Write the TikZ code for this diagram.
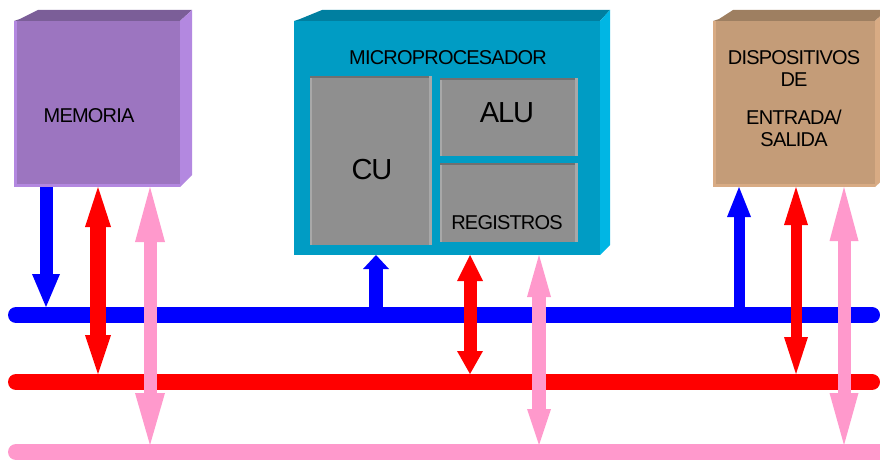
\documentclass[tikz,border=0pt]{standalone}
\usepackage{fontspec}
\setmainfont{Liberation Sans}
\newfontfamily\boxfont[LetterSpace=-4]{Liberation Sans}
\usetikzlibrary{arrows.meta}
\definecolor{memF}{HTML}{9C75C0}
\definecolor{memT}{HTML}{7B5E98}
\definecolor{memR}{HTML}{B388E0}
\definecolor{micF}{HTML}{009CC4}
\definecolor{micT}{HTML}{007FA0}
\definecolor{micR}{HTML}{00B6E4}
\definecolor{disF}{HTML}{C49C78}
\definecolor{disT}{HTML}{9E7F61}
\definecolor{disR}{HTML}{D8AB84}
\definecolor{gF}{HTML}{8F8F8F}
\definecolor{gTop}{HTML}{707070}
\definecolor{gSide}{HTML}{A8A8A8}
\definecolor{busBlue}{HTML}{0000FF}
\definecolor{busRed}{HTML}{FF0000}
\definecolor{busPink}{HTML}{FF99CC}
\tikzset{
  box/.style={inner sep=0pt, outer sep=0pt, anchor=north west},
  gbox/.style={box, fill=gF},
  lbl/.style={inner sep=0pt, font={\boxfont\fontsize{20}{22}\selectfont}, align=center},
  biglbl/.style={inner sep=0pt, font={\boxfont\fontsize{29}{32}\selectfont}},
  bus/.style={line width=16pt, line cap=round},
}
\newcommand\gbevel[1]{%
  \fill[gTop] (#1.north west) rectangle ([yshift=-2pt]#1.north east);
  \fill[gSide] ([xshift=-3pt]#1.north east) rectangle (#1.south east);
  \fill[gSide] ([yshift=-2pt]#1.north west) rectangle ([xshift=2pt]#1.south west);
}
\begin{document}
\begin{tikzpicture}[x=1pt,y=-1pt]
\useasboundingbox (0,0) rectangle (880,460);
\clip (0,0) rectangle (880,460);
% MEMORIA
\fill[memT] (14,21) -- (20,19) -- (38,10) -- (192,10) -- (180,21) -- cycle;
\fill[memR] (180,21) -- (192,10) -- (192,175) -- (180,187) -- cycle;
\node[box, fill=memF, minimum width=166pt, minimum height=166pt] (mem) at (14,21) {};
\fill[memR] (mem.north west) rectangle ([xshift=3pt]mem.south west);
\fill[memR] ([yshift=3pt]mem.south west) rectangle (mem.south east);
\node[lbl] (memt) at (89,116) {MEMORIA};
% MICROPROCESADOR
\fill[micT] (294,21) -- (300,19) -- (322,10) -- (610,10) -- (600,21) -- cycle;
\fill[micR] (600,21) -- (610,10) -- (610,245) -- (600,255) -- cycle;
\node[box, fill=micF, minimum width=306pt, minimum height=234pt] (mic) at (294,21) {};
\node[lbl] (mict) at (448,58) {MICROPROCESADOR};
\node[gbox, minimum width=122pt, minimum height=169pt] (cu) at (310,76) {};
\gbevel{cu}
\node[gbox, minimum width=138pt, minimum height=78pt] (alu) at (440,78) {};
\gbevel{alu}
\node[gbox, minimum width=138pt, minimum height=79pt] (reg) at (440,163) {};
\gbevel{reg}
\node[biglbl] (cut) at (372,170) {CU};
\node[biglbl] (alut) at (507,113) {ALU};
\node[lbl] (regt) at (507,223) {REGISTROS};
% DISPOSITIVOS
\fill[disT] (713,21) -- (719,19) -- (733,10) -- (887,10) -- (875,21) -- cycle;
\fill[disR] (875,21) -- (887,10) -- (887,176) -- (875,187) -- cycle;
\node[box, fill=disF, minimum width=162pt, minimum height=166pt] (dis) at (713,21) {};
\fill[disR] (dis.north west) rectangle ([xshift=3pt]dis.south west);
\fill[disR] ([yshift=3pt]dis.south west) rectangle (dis.south east);
\node[lbl] (dist) at (794,99) {DISPOSITIVOS\\DE\\[16pt]ENTRADA/\\SALIDA};
% buses
\coordinate (bB) at (16,315); \coordinate (bBe) at (872,315);
\coordinate (bR) at (16,382); \coordinate (bRe) at (872,382);
\coordinate (bP) at (16,452); \coordinate (bPe) at (890,452);
\coordinate (bBt) at (0,307);
\coordinate (bRt) at (0,374);
\coordinate (bPt) at (0,445);
\draw[bus, busBlue] (bB) -- (bBe);
\draw[bus, busRed] (bR) -- (bRe);
\draw[bus, busPink] (bP) -- (bPe);
% arrow columns
\coordinate (a1) at (46,0);  \coordinate (a2) at (98,0);  \coordinate (a3) at (150,0);
\coordinate (a4) at (376,0); \coordinate (a5) at (470,0); \coordinate (a6) at (539,0);
\coordinate (a7) at (739,0); \coordinate (a8) at (796,0); \coordinate (a9) at (844,0);
% memoria arrows
\draw[busBlue, line width=13pt, -{Triangle[length=33pt,width=28pt,line width=0pt]}] (mem.south -| a1) -- (a1 |- bBt);
\draw[busRed, line width=16pt, {Triangle[length=40pt,width=26pt,line width=0pt]}-{Triangle[length=39pt,width=26pt,line width=0pt]}] (mem.south -| a2) -- (a2 |- bRt);
\draw[busPink, line width=13pt, {Triangle[length=55pt,width=30pt,line width=0pt]}-{Triangle[length=52pt,width=30pt,line width=0pt]}] (mem.south -| a3) -- (a3 |- bPt);
% micro arrows
\draw[busBlue, line width=14pt, -{Triangle[length=14pt,width=26pt,line width=0pt]}] (a4 |- bBt) -- (mic.south -| a4);
\draw[busRed, line width=13pt, {Triangle[length=26pt,width=26pt,line width=0pt]}-{Triangle[length=23pt,width=26pt,line width=0pt]}] (mic.south -| a5) -- (a5 |- bRt);
\draw[busPink, line width=14pt, {Triangle[length=42pt,width=24pt,line width=0pt]}-{Triangle[length=36pt,width=24pt,line width=0pt]}] (mic.south -| a6) -- (a6 |- bPt);
% dispositivos arrows
\draw[busBlue, line width=11pt, -{Triangle[length=30pt,width=24pt,line width=0pt]}] (a7 |- bBt) -- (dis.south -| a7);
\draw[busRed, line width=11pt, {Triangle[length=38pt,width=24pt,line width=0pt]}-{Triangle[length=37pt,width=24pt,line width=0pt]}] (dis.south -| a8) -- (a8 |- bRt);
\draw[busPink, line width=13pt, {Triangle[length=54pt,width=29pt,line width=0pt]}-{Triangle[length=52pt,width=29pt,line width=0pt]}] (dis.south -| a9) -- (a9 |- bPt);
\end{tikzpicture}
\end{document}
